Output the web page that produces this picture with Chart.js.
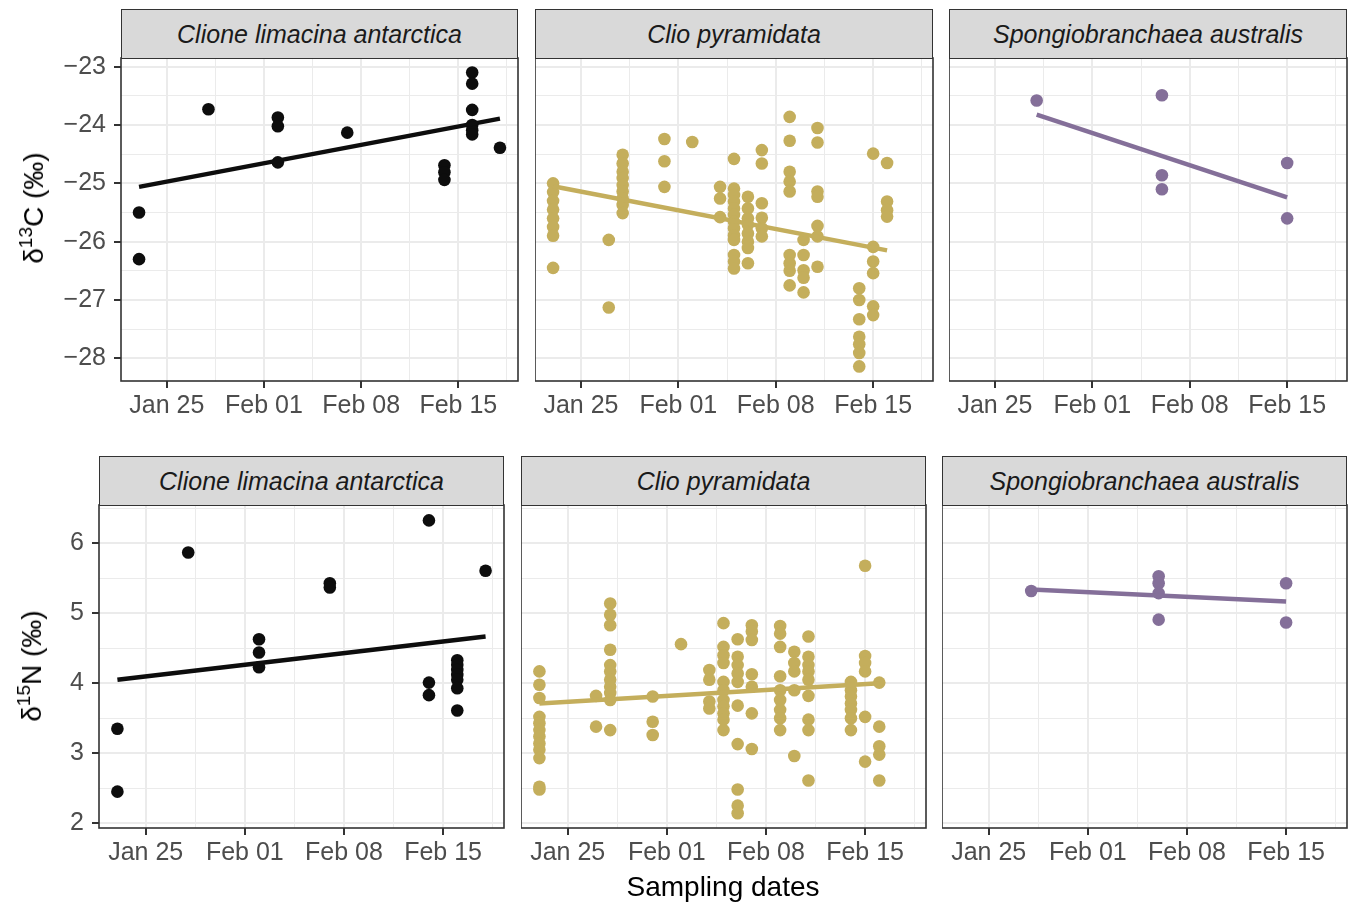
<!DOCTYPE html>
<html>
<head>
<meta charset="utf-8">
<script src="https://cdn.jsdelivr.net/npm/chart.js@4.4.1/dist/chart.umd.min.js"></script>
<style>
  html, body { margin: 0; padding: 0; background: #fff; }
  #fig { position: relative; width: 1350px; height: 903px; background: #fff; overflow: hidden;
         font-family: "Liberation Sans", Arial, Helvetica, sans-serif; }
  .strip { position: absolute; box-sizing: border-box; background: #D9D9D9; border: 1.6px solid #333;
           color: #1A1A1A; font-size: 25px; font-style: italic; display: flex; align-items: center; justify-content: center; }
  .ytitle { position: absolute; white-space: nowrap; font-size: 28px; color: #000;
            transform: translate(-50%, -50%) rotate(-90deg); }
  .ytitle sup { font-size: 19px; vertical-align: 0; position: relative; top: -11px; }
  .xtitle { position: absolute; white-space: nowrap; font-size: 28px; color: #000; transform: translate(-50%, -50%); }
  canvas { position: absolute; }
</style>
</head>
<body>
<div id="fig"></div>
<script>
// x values are day-of-year (Jan 25 = 25, Feb 01 = 32, ...)
const xTickDays = [25, 32, 39, 46];
const xTickLabels = ['Jan 25', 'Feb 01', 'Feb 08', 'Feb 15'];
const xRange = [21.7, 50.3];

const d13CTicks = [-28, -27, -26, -25, -24, -23];
const d13CRange = [-28.39, -22.85];
const d15NTicks = [2, 3, 4, 5, 6];
const d15NRange = [1.93, 6.55];

const species = ['Clione limacina antarctica', 'Clio pyramidata', 'Spongiobranchaea australis'];
const colors = ['#0D0D0D', '#C4AE5C', '#846F99'];

// sampling days and the values measured on each day
const clioneDays13C = [23, 28, 33, 38, 45, 47, 49];
const clioneD13C = [
  [-25.50, -26.30], [-23.73], [-23.87, -24.02, -24.64], [-24.13],
  [-24.69, -24.81, -24.94], [-23.10, -23.29, -23.74, -24.00, -24.09, -24.16], [-24.39]
];
const clioDays13C = [23, 27, 28, 31, 33, 35, 36, 37, 38, 40, 41, 42, 45, 46, 47];
const clioD13C = [
  [-25.00, -25.15, -25.30, -25.45, -25.60, -25.75, -25.90, -26.45],
  [-25.97, -27.13],
  [-24.51, -24.66, -24.80, -24.91, -25.03, -25.14, -25.26, -25.37, -25.51],
  [-24.24, -24.62, -25.06],
  [-24.29],
  [-25.06, -25.26, -25.58],
  [-24.58, -25.09, -25.20, -25.31, -25.43, -25.54, -25.66, -25.77, -25.89, -25.97, -26.23, -26.34, -26.46],
  [-25.23, -25.43, -25.60, -25.71, -25.86, -26.00, -26.11, -26.37],
  [-24.43, -24.66, -25.34, -25.59, -25.77, -25.91],
  [-23.86, -24.27, -24.80, -24.97, -25.14, -26.23, -26.37, -26.50, -26.75],
  [-25.97, -26.23, -26.49, -26.62, -26.87],
  [-24.05, -24.30, -25.14, -25.23, -25.73, -25.91, -26.43],
  [-26.80, -27.00, -27.33, -27.63, -27.76, -27.91, -28.14],
  [-24.49, -26.09, -26.34, -26.54, -27.11, -27.26],
  [-24.65, -25.31, -25.46, -25.57]
];
const spongeDays13C = [28, 37, 46];
const spongeD13C = [[-23.58], [-23.49, -24.86, -25.10], [-24.65, -25.60]];

const clioneDays15N = [23, 28, 33, 38, 45, 47, 49];
const clioneD15N = [
  [3.35, 2.45], [5.87], [4.63, 4.44, 4.23], [5.43, 5.37],
  [6.33, 4.01, 3.83], [4.33, 4.26, 4.19, 4.12, 4.05, 3.93, 3.61], [5.61]
];
const clioDays15N = [23, 27, 28, 31, 33, 35, 36, 37, 38, 40, 41, 42, 45, 46, 47];
const clioD15N = [
  [4.17, 3.98, 3.79, 3.52, 3.43, 3.33, 3.24, 3.14, 3.05, 2.93, 2.52, 2.48],
  [3.82, 3.38],
  [5.14, 4.98, 4.83, 4.48, 4.26, 4.17, 4.05, 3.95, 3.86, 3.76, 3.33],
  [3.81, 3.45, 3.26],
  [4.56],
  [4.19, 4.05, 3.74, 3.64],
  [4.86, 4.52, 4.40, 4.29, 4.02, 3.90, 3.76, 3.67, 3.57, 3.48, 3.33],
  [4.63, 4.38, 4.26, 4.14, 4.02, 3.68, 3.13, 2.48, 2.25, 2.14],
  [4.83, 4.74, 4.62, 4.13, 3.95, 3.57, 3.06],
  [4.82, 4.71, 4.52, 4.10, 3.90, 3.76, 3.62, 3.50, 3.33],
  [4.45, 4.29, 4.17, 3.90, 2.96],
  [4.67, 4.38, 4.26, 4.17, 4.05, 3.82, 3.48, 3.33, 2.61],
  [4.02, 3.90, 3.81, 3.71, 3.62, 3.50, 3.33],
  [5.68, 4.39, 4.29, 4.17, 3.52, 2.88],
  [4.01, 3.38, 3.10, 2.98, 2.61]
];
const spongeDays15N = [28, 37, 46];
const spongeD15N = [[5.32], [5.53, 5.43, 5.29, 4.91], [5.43, 4.87]];

// linear fits: [first day, value, last day, value]
const clioneTrend13C = [23, -25.06, 49, -23.89];
const clioTrend13C = [23, -25.05, 47, -26.15];
const spongeTrend13C = [28, -23.82, 46, -25.24];
const clioneTrend15N = [23, 4.05, 49, 4.67];
const clioTrend15N = [23, 3.71, 47, 4.00];
const spongeTrend15N = [28, 5.34, 46, 5.17];

const FONT = '"Liberation Sans", Arial, Helvetica, sans-serif';
const TICK_SIZE = 25;
const fig = document.getElementById('fig');

function withMinor(majors, range) {
  const step = majors[1] - majors[0];
  const out = [];
  for (let v = majors[0] - step; v <= majors[majors.length - 1] + step + 1e-9; v += step / 2) {
    const r = Math.round(v * 100) / 100;
    if (r >= range[0] && r <= range[1]) out.push(r);
  }
  return out;
}

function toPoints(days, groups) {
  const pts = [];
  days.forEach((d, i) => groups[i].forEach(v => pts.push({ x: d, y: v })));
  return pts;
}

function minusLabel(v) {
  return v < 0 ? '\u2212' + Math.abs(v) : String(v);
}

const panelFrame = {
  id: 'panelFrame',
  afterDatasetsDraw(chart) {
    const { ctx, chartArea: a } = chart;
    ctx.save();
    ctx.strokeStyle = '#333';
    ctx.lineWidth = 1.6;
    ctx.strokeRect(a.left, a.top, a.right - a.left, a.bottom - a.top);
    ctx.restore();
  }
};

function addStrip(left, top, width, text) {
  const s = document.createElement('div');
  s.className = 'strip';
  s.style.left = left + 'px';
  s.style.top = top + 'px';
  s.style.width = width + 'px';
  s.style.height = '50px';
  s.textContent = text;
  fig.appendChild(s);
}

function makePanel(p) {
  const yw = p.showY ? 90 : 0;
  const pad = 3;
  const xh = 50;
  const w = yw + p.width + pad;
  const h = pad + p.height + xh;
  const canvas = document.createElement('canvas');
  canvas.width = w;
  canvas.height = h;
  canvas.style.left = (p.left - yw) + 'px';
  canvas.style.top = (p.top - pad) + 'px';
  canvas.style.width = w + 'px';
  canvas.style.height = h + 'px';
  fig.appendChild(canvas);

  addStrip(p.left, p.top - 49, p.width, p.title);

  const xGrid = withMinor(xTickDays, xRange);
  const yGrid = withMinor(p.yTicks, p.yRange);
  const tr = p.trend;

  new Chart(canvas, {
    type: 'scatter',
    data: {
      datasets: [
        {
          type: 'line',
          data: [{ x: tr[0], y: tr[1] }, { x: tr[2], y: tr[3] }],
          borderColor: p.color,
          borderWidth: 4.5,
          pointRadius: 0,
          fill: false,
          order: 0
        },
        {
          data: toPoints(p.days, p.values),
          backgroundColor: p.color,
          borderWidth: 0,
          pointRadius: 6.3,
          pointHoverRadius: 6.3,
          order: 1
        }
      ]
    },
    options: {
      responsive: false,
      animation: false,
      devicePixelRatio: 1,
      events: [],
      layout: { padding: { top: pad, right: pad, left: 0, bottom: 0 }, autoPadding: false },
      plugins: { legend: { display: false }, tooltip: { enabled: false } },
      scales: {
        x: {
          type: 'linear',
          min: xRange[0],
          max: xRange[1],
          bounds: 'data',
          afterBuildTicks: (s) => { s.ticks = xGrid.map(v => ({ value: v })); },
          afterFit: (s) => {
            s.height = xh;
            s.paddingLeft = 0;
            s.paddingRight = 0;
          },
          border: { display: false },
          grid: {
            color: '#EBEBEB',
            lineWidth: (c) => (c.tick && xTickDays.includes(c.tick.value) ? 2 : 1),
            tickLength: 7,
            tickWidth: 2,
            tickColor: (c) => (c.tick && xTickDays.includes(c.tick.value) ? '#333' : 'rgba(0,0,0,0)')
          },
          ticks: {
            autoSkip: false,
            maxRotation: 0,
            padding: 3,
            color: '#4D4D4D',
            font: { family: FONT, size: TICK_SIZE },
            callback: (v) => {
              const i = xTickDays.indexOf(v);
              return i >= 0 ? xTickLabels[i] : '';
            }
          }
        },
        y: {
          type: 'linear',
          min: p.yRange[0],
          max: p.yRange[1],
          bounds: 'data',
          afterBuildTicks: (s) => { s.ticks = yGrid.map(v => ({ value: v })); },
          afterFit: (s) => {
            s.width = yw;
            s.paddingTop = 0;
            s.paddingBottom = 0;
          },
          border: { display: false },
          grid: {
            color: '#EBEBEB',
            lineWidth: (c) => (c.tick && p.yTicks.includes(c.tick.value) ? 2 : 1),
            drawTicks: p.showY,
            tickLength: 7,
            tickWidth: 2,
            tickColor: (c) => (c.tick && p.yTicks.includes(c.tick.value) ? '#333' : 'rgba(0,0,0,0)')
          },
          ticks: {
            display: p.showY,
            autoSkip: false,
            padding: 8,
            color: '#4D4D4D',
            font: { family: FONT, size: TICK_SIZE },
            callback: (v) => (p.yTicks.includes(v) ? minusLabel(v) : '')
          }
        }
      }
    },
    plugins: [panelFrame]
  });
}

const topRow = { top: 58, height: 323, yTicks: d13CTicks, yRange: d13CRange };
const bottomRow = { top: 505, height: 323, yTicks: d15NTicks, yRange: d15NRange };

makePanel({ ...topRow, left: 121, width: 397, showY: true, title: species[0], color: colors[0],
  days: clioneDays13C, values: clioneD13C, trend: clioneTrend13C });
makePanel({ ...topRow, left: 535, width: 398, showY: false, title: species[1], color: colors[1],
  days: clioDays13C, values: clioD13C, trend: clioTrend13C });
makePanel({ ...topRow, left: 949, width: 398, showY: false, title: species[2], color: colors[2],
  days: spongeDays13C, values: spongeD13C, trend: spongeTrend13C });

makePanel({ ...bottomRow, left: 99, width: 405, showY: true, title: species[0], color: colors[0],
  days: clioneDays15N, values: clioneD15N, trend: clioneTrend15N });
makePanel({ ...bottomRow, left: 521, width: 405, showY: false, title: species[1], color: colors[1],
  days: clioDays15N, values: clioD15N, trend: clioTrend15N });
makePanel({ ...bottomRow, left: 942, width: 405, showY: false, title: species[2], color: colors[2],
  days: spongeDays15N, values: spongeD15N, trend: spongeTrend15N });

function addText(cls, x, y, html) {
  const d = document.createElement('div');
  d.className = cls;
  d.style.left = x + 'px';
  d.style.top = y + 'px';
  d.innerHTML = html;
  fig.appendChild(d);
}
addText('ytitle', 34, 208, '\u03B4<sup>13</sup>C (\u2030)');
addText('ytitle', 32, 666, '\u03B4<sup>15</sup>N (\u2030)');
addText('xtitle', 723, 887, 'Sampling dates');
</script>
</body>
</html>
